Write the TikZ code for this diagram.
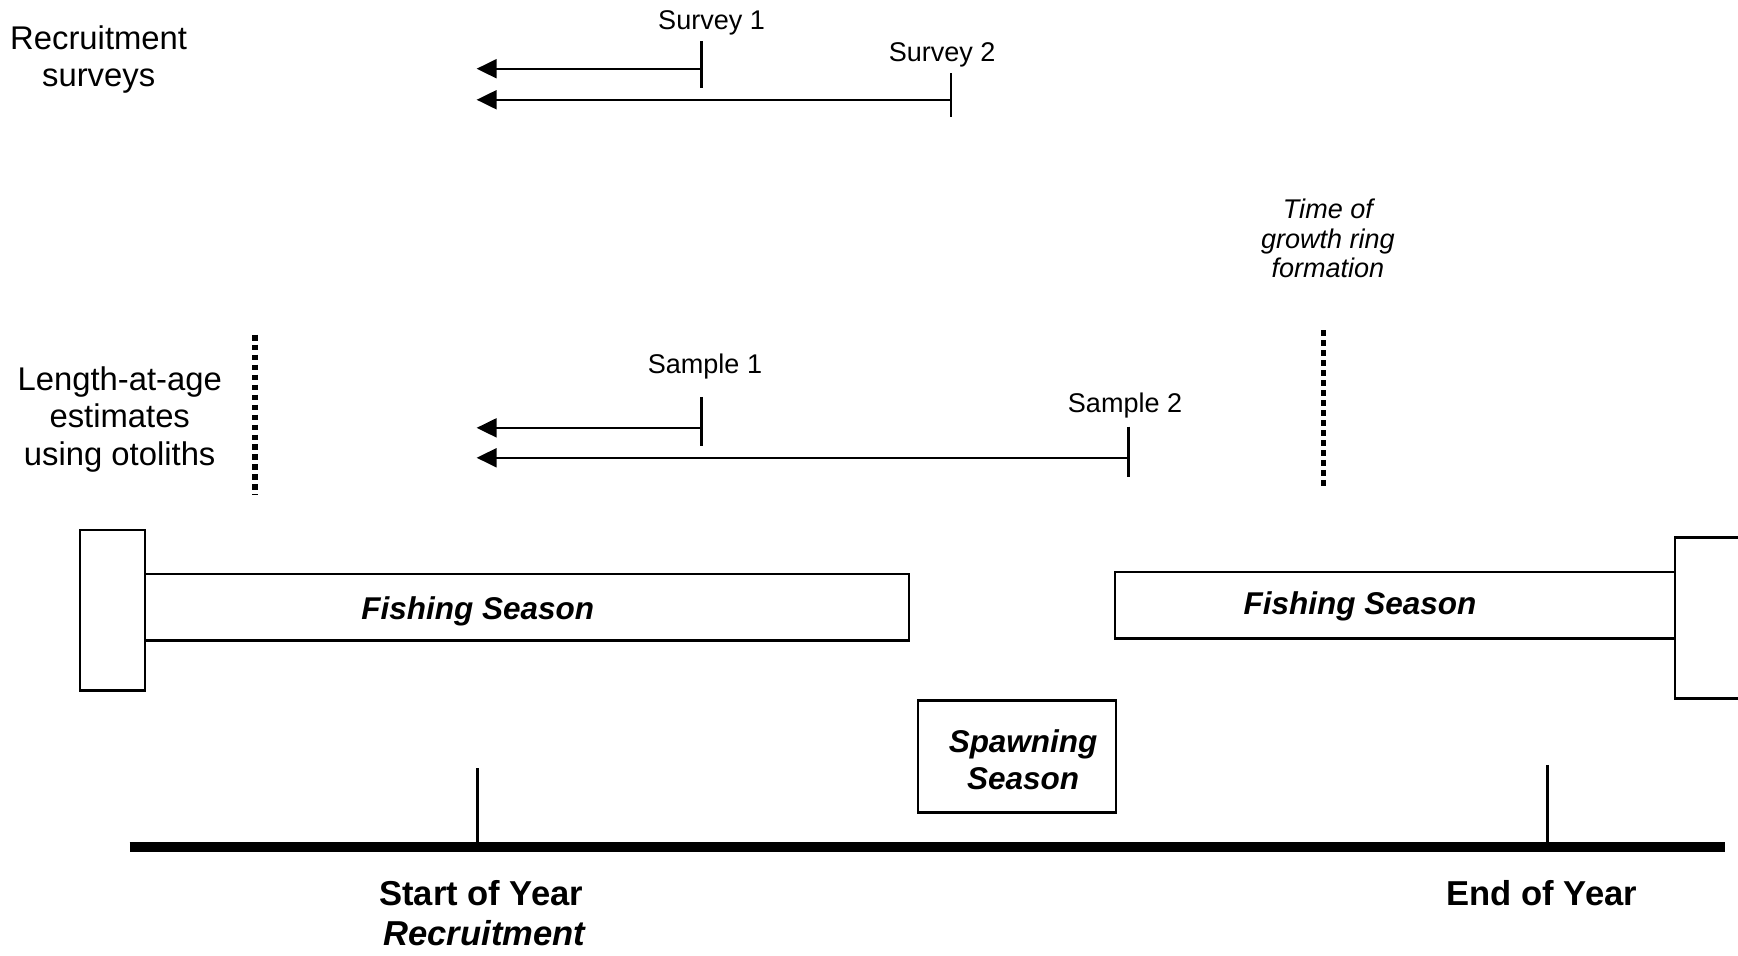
\documentclass[tikz,border=0pt]{standalone}
\usepackage{fontspec}
\setmainfont{Liberation Sans}
\usetikzlibrary{arrows.meta, positioning}

\begin{document}
\begin{tikzpicture}[x=0.5pt, y=-0.5pt,
    sidelbl/.style={align=center, inner sep=0pt, yshift=-1.2pt, font=\fontsize{14.8}{16.8}\selectfont},
    smalllbl/.style={inner sep=0pt, yshift=-1.2pt, font=\fontsize{12.2}{13.3}\selectfont},
    seasonlbl/.style={inner sep=0pt, yshift=-1.2pt, align=center, font=\fontsize{14.2}{16.5}\selectfont\bfseries\itshape},
    yearlbl/.style={inner sep=0pt, yshift=-1.2pt, font=\fontsize{15.6}{18}\selectfont\bfseries},
    seasonbox/.style={draw=black, line width=1.1pt},
    marktick/.style={line width=1.1pt},
    backarrow/.style={line width=1.1pt, -{Triangle[length=9pt, width=8.5pt]}},
    ringdots/.style={line width=2.6pt, dash pattern=on 2.6pt off 1.9pt}]

    % Picture frame (shown pixels, y downwards)
    \clip (0,0) rectangle (1568,862);

    % Parameters
    \def\tip{430}   % left end of all back arrows
    \def\axis{764}  % height of the year axis

    % 1. RECRUITMENT SURVEYS
    \node[sidelbl] (recsurv) at (89,51) {Recruitment\\surveys};
    \node[smalllbl] (survey1) at (642,18) {Survey 1};
    \node[smalllbl] (survey2) at (850,47) {Survey 2};
    \coordinate (sv1) at (633,62);
    \coordinate (sv1tip) at (\tip,62);
    \coordinate (sv2) at (858,90);
    \coordinate (sv2tip) at (\tip,90);
    \draw[marktick] (633,37) -- (633,79);
    \draw[marktick] (858,66) -- (858,106);
    \draw[backarrow] (sv1) -- (sv1tip);
    \draw[backarrow] (sv2) -- (sv2tip);

    % 2. LENGTH-AT-AGE SAMPLES
    \node[sidelbl] (lenage) at (108,376) {Length-at-age\\estimates\\using otoliths};
    \node[smalllbl] (sample1) at (636,328) {Sample 1};
    \node[smalllbl] (sample2) at (1015,363) {Sample 2};
    \coordinate (sp1) at (633,386);
    \coordinate (sp1tip) at (\tip,386);
    \coordinate (sp2) at (1018,413);
    \coordinate (sp2tip) at (\tip,413);
    \draw[marktick] (633,358) -- (633,402);
    \draw[marktick] (1018,385) -- (1018,430);
    \draw[backarrow] (sp1) -- (sp1tip);
    \draw[backarrow] (sp2) -- (sp2tip);

    % Dotted markers
    \draw[ringdots] (230,302) -- (230,447);
    \draw[ringdots] (1194,298) -- (1194,440);
    \node[smalllbl, align=center, font=\fontsize{12.2}{13.3}\selectfont\itshape]
        (ringtime) at (1198,213) {Time of\\growth ring\\formation};

    % 3. FISHING SEASONS
    \draw[seasonbox] (72,478) rectangle (131,623);
    \draw[seasonbox] (131,518) rectangle (820,578);
    \node[seasonlbl] (fish1) at (431,549) {Fishing Season};
    \draw[seasonbox] (1006,516) rectangle (1511,576);
    \draw[seasonbox] (1511,485) rectangle (1600,630);
    \node[seasonlbl] (fish2) at (1227,545) {Fishing Season};

    % 4. SPAWNING SEASON
    \draw[seasonbox] (828,632) rectangle (1007,733);
    \node[seasonlbl] (spawn) at (923,683) {Spawning\\Season};

    % 5. YEAR AXIS
    \draw[line width=4.5pt] (117,\axis) -- (1556,\axis);
    \draw[line width=1.5pt] (431,693) -- (431,\axis);
    \draw[line width=1.5pt] (1396,690) -- (1396,\axis);
    \node[yearlbl] (startyr) at (434,803) {Start of Year};
    \node[yearlbl, yshift=1.2pt, font=\fontsize{15.6}{18}\selectfont\bfseries\itshape] (recruit) at (437,842) {Recruitment};
    \node[yearlbl] (endyr) at (1391,803) {End of Year};
\end{tikzpicture}
\end{document}
